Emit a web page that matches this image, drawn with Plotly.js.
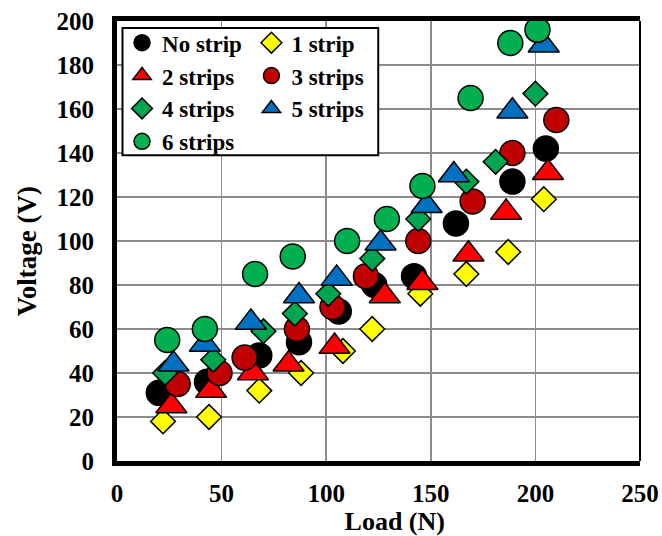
<!DOCTYPE html>
<html>
<head>
<meta charset="utf-8">
<script src="https://cdn.plot.ly/plotly-3.0.1.min.js"></script>
<style>html,body{margin:0;padding:0;background:#fff;}#chart{width:662px;height:536px;}</style>
</head>
<body>
<div id="chart"></div>
<script>
// Series names
const seriesNames = ["No strip", "1 strip", "2 strips", "3 strips", "4 strips", "5 strips", "6 strips"];

// Load (N) values per series
const xNoStrip = [20, 43, 68, 87, 106, 123, 142, 162, 189, 205];
const x1Strip  = [22, 44, 68, 88, 108, 122, 145, 167, 187, 204];
const x2Strips = [26, 45, 65, 82, 104, 128, 146, 168, 186, 206];
const x3Strips = [29, 49, 61, 86, 103, 119, 144, 170, 189, 210];
const x4Strips = [23, 46, 70, 85, 101, 122, 144, 167, 181, 200];
const x5Strips = [27, 42, 64, 87, 105, 126, 148, 161, 189, 204];
const x6Strips = [24, 42, 66, 84, 110, 129, 146, 169, 188, 201];

// Voltage (V) values per series
const yNoStrip = [31, 36, 48, 54, 68, 80, 84, 108, 127, 142];
const y1Strip  = [18, 20, 32, 40, 50, 60, 76, 85, 95, 119];
const y2Strips = [25, 32, 40, 44, 52, 75, 81, 94, 113, 131];
const y3Strips = [35, 40, 47, 60, 70, 84, 100, 118, 140, 155];
const y4Strips = [40, 46, 59, 67, 76, 92, 110, 127, 136, 167];
const y5Strips = [44, 53, 63, 75, 83, 99, 116, 130, 159, 189];
const y6Strips = [55, 60, 85, 93, 100, 110, 125, 165, 190, 196];

// Axis ticks
const xTicks = [0, 50, 100, 150, 200, 250];
const yTicks = [0, 20, 40, 60, 80, 100, 120, 140, 160, 180, 200];

const xs = [xNoStrip, x1Strip, x2Strips, x3Strips, x4Strips, x5Strips, x6Strips];
const ys = [yNoStrip, y1Strip, y2Strips, y3Strips, y4Strips, y5Strips, y6Strips];
const styles = [
  {symbol: "circle", color: "#000000", size: 25, legend: "legend"},
  {symbol: "diamond", color: "#FFFF00", size: 19, legend: "legend2"},
  {symbol: "triangle-up", color: "#FF0000", size: 27, legend: "legend"},
  {symbol: "circle", color: "#C00000", size: 25, legend: "legend2"},
  {symbol: "diamond", color: "#00A550", size: 19, legend: "legend"},
  {symbol: "triangle-up", color: "#0070C0", size: 27, legend: "legend2"},
  {symbol: "circle", color: "#00B050", size: 25, legend: "legend"}
];

const traces = seriesNames.map((name, i) => ({
  type: "scatter",
  mode: "markers",
  name: name,
  x: xs[i],
  y: ys[i],
  legend: styles[i].legend,
  marker: {
    symbol: styles[i].symbol,
    color: styles[i].color,
    size: styles[i].size,
    line: {color: "#000000", width: 1.5}
  },
  cliponaxis: false
}));

const fontFam = "'Liberation Serif', 'Times New Roman', serif";
const legendFont = {family: fontFam, size: 23, color: "#000", weight: "bold"};

const layout = {
  width: 662,
  height: 536,
  margin: {l: 117, r: 22, t: 21, b: 75},
  paper_bgcolor: "#ffffff",
  plot_bgcolor: "#ffffff",
  font: {family: fontFam, color: "#000", weight: "bold"},
  showlegend: true,
  xaxis: {
    range: [0, 250],
    tickvals: xTicks,
    ticktext: xTicks.map(String),
    showgrid: true,
    gridcolor: "#8c8c8c",
    gridwidth: 1.5,
    zeroline: false,
    showline: true,
    linecolor: "#000",
    linewidth: 5,
    mirror: true,
    ticks: "",
    ticklabelstandoff: 6,
    tickfont: {family: fontFam, size: 25, color: "#000", weight: "bold"},
    title: {text: "&nbsp;&nbsp;&nbsp;&nbsp;&nbsp;Load (N)", font: {family: fontFam, size: 26, color: "#000", weight: "bold"}, standoff: 0}
  },
  yaxis: {
    range: [0, 200],
    tickvals: yTicks,
    ticktext: yTicks.map(String),
    showgrid: true,
    gridcolor: "#8c8c8c",
    gridwidth: 1.5,
    zeroline: false,
    showline: true,
    linecolor: "#000",
    linewidth: 5,
    ticks: "",
    ticklabelstandoff: 13,
    tickfont: {family: fontFam, size: 25, color: "#000", weight: "bold"},
    title: {text: "Voltage (V)&nbsp;&nbsp;&nbsp;", font: {family: fontFam, size: 27, color: "#000", weight: "bold"}, standoff: 14}
  },
  legend: {
    x: 0.0096, y: 0.9995, xanchor: "left", yanchor: "top",
    bgcolor: "rgba(0,0,0,0)", borderwidth: 0,
    font: legendFont, traceorder: "normal", itemclick: false
  },
  legend2: {
    x: 0.257, y: 0.9995, xanchor: "left", yanchor: "top",
    bgcolor: "rgba(0,0,0,0)", borderwidth: 0,
    font: legendFont, traceorder: "normal", itemclick: false
  },
  shapes: [
    {type: "rect", xref: "paper", yref: "paper", x0: 0.0105, x1: 0.4995, y0: 0.695, y1: 0.984,
     line: {color: "#000", width: 2}, fillcolor: "#ffffff", layer: "above"},
    {type: "line", xref: "paper", yref: "paper", x0: 1, x1: 1, y0: 0, y1: 1,
     line: {color: "#000", width: 2}, layer: "above"}
  ]
};

Plotly.newPlot("chart", traces, layout, {displayModeBar: false, staticPlot: true});
</script>
</body>
</html>
